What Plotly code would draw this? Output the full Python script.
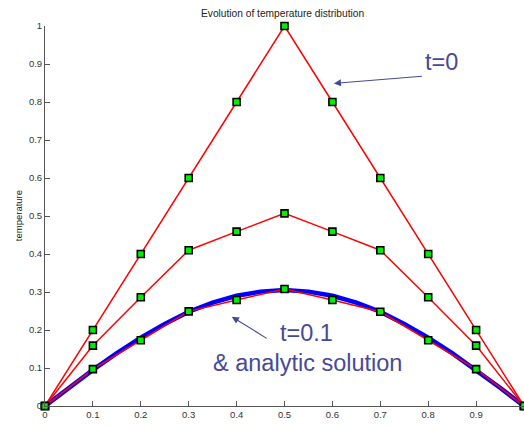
import plotly.graph_objects as go

# Grid positions and temperature profiles
x_nodes = [0.0, 0.1, 0.2, 0.3, 0.4, 0.5, 0.6, 0.7, 0.8, 0.9, 1.0]
temp_t0 = [0.0, 0.2, 0.4, 0.6, 0.8, 1.0, 0.8, 0.6, 0.4, 0.2, 0.0]
temp_mid = [0.0, 0.159, 0.286, 0.41, 0.459, 0.507, 0.459, 0.41, 0.286, 0.159, 0.0]
temp_t01 = [0.0, 0.097, 0.173, 0.249, 0.279, 0.308, 0.279, 0.248, 0.173, 0.097, 0.0]

# Analytic solution at t=0.1 on a finer grid
x_fine = [0.0, 0.05, 0.1, 0.15, 0.2, 0.25, 0.3, 0.35, 0.4, 0.45, 0.5,
          0.55, 0.6, 0.65, 0.7, 0.75, 0.8, 0.85, 0.9, 0.95, 1.0]
temp_exact = [0.0, 0.048, 0.095, 0.139, 0.180, 0.216, 0.248, 0.272, 0.290, 0.301, 0.305,
              0.301, 0.290, 0.272, 0.248, 0.216, 0.180, 0.139, 0.095, 0.048, 0.0]

x_ticks = [0, 0.1, 0.2, 0.3, 0.4, 0.5, 0.6, 0.7, 0.8, 0.9, 1]
y_ticks = [0, 0.1, 0.2, 0.3, 0.4, 0.5, 0.6, 0.7, 0.8, 0.9, 1]
tick_text = ["0", "0.1", "0.2", "0.3", "0.4", "0.5", "0.6", "0.7", "0.8", "0.9", "1"]

FONT = "Liberation Sans, Arial, sans-serif"
NOTE = "#46499a"

fig = go.Figure()

fig.add_trace(go.Scatter(x=x_fine, y=temp_exact, mode="lines",
                         line=dict(color="#0000ff", width=4.5),
                         cliponaxis=False, showlegend=False))

marker = dict(symbol="square", size=7, color="#00ee00",
              line=dict(color="#000000", width=1.6))
for series in (temp_t0, temp_mid, temp_t01):
    fig.add_trace(go.Scatter(x=x_nodes, y=series, mode="lines+markers",
                             line=dict(color="#ff0000", width=1.5),
                             marker=marker, cliponaxis=False, showlegend=False))

axis_common = dict(range=[0, 1], showgrid=False, zeroline=False,
                   showline=True, linecolor="#555555", linewidth=1,
                   ticks="inside", ticklen=5, tickcolor="#555555",
                   tickfont=dict(family=FONT, size=9.5, color="#333333"),
                   tickmode="array", tickvals=x_ticks, ticktext=tick_text)

fig.update_xaxes(**axis_common)
fig.update_yaxes(**axis_common)

annotations = [
    # title and axis labels
    dict(text="Evolution of temperature distribution", xref="paper", yref="paper",
         x=0.495, y=1, yanchor="bottom", yshift=5, showarrow=False,
         font=dict(family=FONT, size=10.2, color="#222222")),
    dict(text="temperature", xref="paper", yref="paper", x=-0.056, y=0.5,
         textangle=-90, showarrow=False, xanchor="center",
         font=dict(family=FONT, size=9.5, color="#222222")),
    dict(text="x", xref="paper", yref="paper", x=0.497, y=0, yanchor="top",
         yshift=-18, showarrow=False, font=dict(family=FONT, size=9.5, color="#222222")),
    # labels for the curves
    dict(text="t=0", x=0.827, y=0.906, xref="x", yref="y", showarrow=False,
         font=dict(family=FONT, size=23.5, color=NOTE)),
    dict(text="t=0.1", x=0.545, y=0.192, xref="x", yref="y", showarrow=False,
         font=dict(family=FONT, size=23.5, color=NOTE)),
    dict(text="& analytic solution", x=0.549, y=0.114, xref="x", yref="y", showarrow=False,
         font=dict(family=FONT, size=23.5, color=NOTE)),
    # arrows
    dict(text="", x=0.603, y=0.849, ax=0.79, ay=0.868, xref="x", yref="y",
         axref="x", ayref="y", showarrow=True, arrowhead=2, arrowsize=1.3,
         arrowwidth=1.1, arrowcolor=NOTE),
    dict(text="", x=0.39, y=0.235, ax=0.466, ay=0.1755, xref="x", yref="y",
         axref="x", ayref="y", showarrow=True, arrowhead=2, arrowsize=1.3,
         arrowwidth=1.1, arrowcolor=NOTE),
]

fig.update_layout(width=524, height=429,
                  margin=dict(l=45, r=0, t=26, b=23),
                  plot_bgcolor="white", paper_bgcolor="white",
                  annotations=annotations)

fig.write_html("out.html")
